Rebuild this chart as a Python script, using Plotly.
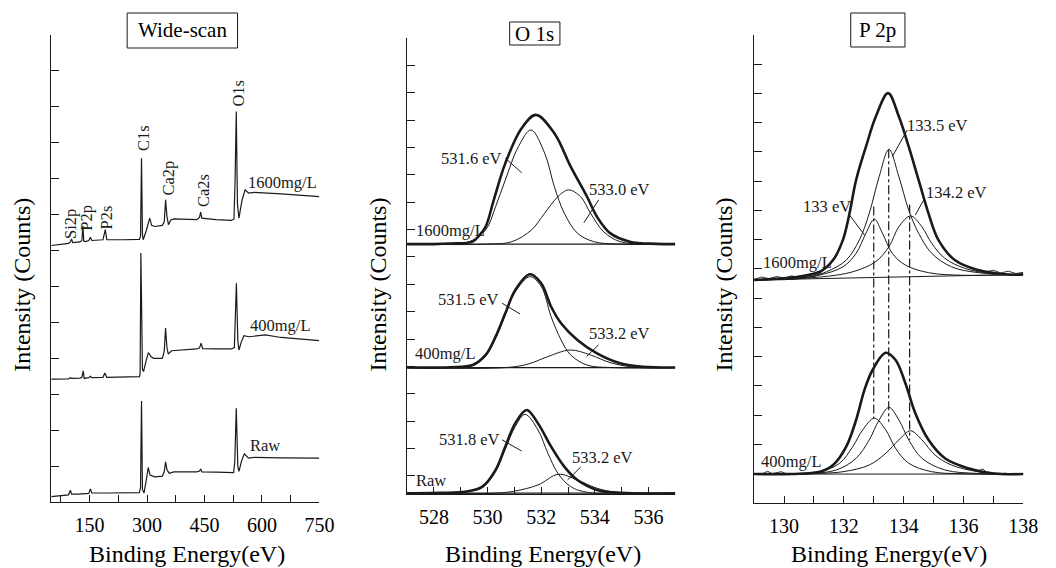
import plotly.graph_objects as go

W, H = 1056, 568
FONT = "'Liberation Serif', 'Times New Roman', Times, 'DejaVu Serif', serif"
INK = "#1a1a1a"

# ---------------- Wide-scan (panel 1) ----------------
ws_1600_x = [50, 95, 100, 103, 106, 125, 130, 132.6, 135, 140, 148, 152, 156, 185, 191, 195, 240, 280, 283, 285.6,
             288, 290, 298, 303, 307, 312, 320, 340, 345, 348.5, 352, 356, 362, 370, 430, 437, 440, 443, 480, 520,
             527, 530, 533, 536, 540, 548, 556, 565, 580, 650, 700, 750]
ws_1600_y = [7.14, 7.20, 7.24, 7.32, 7.22, 7.24, 7.28, 7.69, 7.26, 7.25, 7.28, 7.37, 7.28, 7.30, 7.58, 7.30, 7.30, 7.31,
             7.40, 9.57, 7.45, 7.30, 7.55, 7.75, 7.90, 7.70, 7.67, 7.70, 7.80, 8.41, 7.95, 7.72, 7.85, 7.88, 7.86, 7.92,
             8.07, 7.90, 7.86, 7.84, 7.88, 9.00, 10.87, 8.30, 7.90, 8.40, 8.69, 8.60, 8.62, 8.58, 8.54, 8.50]

ws_400_x = [50, 95, 100, 103, 125, 130, 133.4, 136, 140, 148, 152, 156, 185, 190, 195, 240, 280.5, 282, 284, 288,
            290.8, 298, 303.7, 310, 317, 340, 345, 348.4, 352, 355.3, 364, 430, 437, 441.3, 445, 480, 520, 528,
            533.3, 537, 540, 546, 553, 566, 609, 650, 700, 750]
ws_400_y = [3.42, 3.43, 3.46, 3.44, 3.45, 3.47, 3.65, 3.44, 3.45, 3.46, 3.50, 3.46, 3.47, 3.59, 3.47, 3.47, 3.49, 3.60,
            6.93, 3.70, 3.63, 3.95, 4.16, 4.05, 4.00, 4.00, 4.20, 4.84, 4.30, 4.12, 4.21, 4.26, 4.29, 4.42, 4.27, 4.26,
            4.26, 4.30, 6.09, 4.50, 4.23, 4.45, 4.63, 4.60, 4.65, 4.58, 4.53, 4.49]

ws_raw_x = [50, 95, 100, 103, 120, 148, 152, 156, 200, 280, 283, 285.6, 288, 292, 298, 303, 308, 320, 340, 345,
            348.5, 352, 358, 370, 430, 437, 440, 443, 480, 526, 529, 533, 537, 540, 547, 554, 565, 580, 650, 750]
ws_raw_y = [0.15, 0.20, 0.33, 0.22, 0.22, 0.24, 0.36, 0.25, 0.25, 0.26, 0.40, 2.81, 0.35, 0.25, 0.60, 0.96, 0.75,
            0.70, 0.72, 0.85, 1.12, 0.90, 0.80, 0.84, 0.84, 0.86, 0.92, 0.84, 0.83, 0.82, 1.10, 2.61, 1.00, 0.85,
            1.15, 1.34, 1.22, 1.24, 1.23, 1.22]

ws_peak_labels = ["Si2p", "P2p", "P2s", "C1s", "Ca2p", "Ca2s", "O1s"]
ws_sample_labels = ["1600mg/L", "400mg/L", "Raw"]

# ---------------- O 1s (panel 2) ----------------
o_edges = [527.0, 537.0]
o_1600_base = 8.47
o_1600_env_x = [527.0, 528.0, 528.6, 529.44, 529.7, 529.93, 530.23, 530.66, 531.27, 531.80, 532.49, 533.10, 533.71,
                534.08, 534.57, 535.30, 536.3, 537.0]
o_1600_env_y = [8.47, 8.47, 8.49, 8.56, 8.80, 9.11, 10.08, 11.42, 12.70, 13.19, 12.52, 11.30, 10.20, 9.47, 8.87, 8.56,
                8.48, 8.47]
o_1600_c1_x = [527.0, 528.5, 529.32, 529.93, 530.30, 530.66, 531.15, 531.62, 532.13, 532.49, 532.86, 533.35, 533.96,
               534.9, 537.0]
o_1600_c1_y = [8.47, 8.47, 8.56, 8.99, 9.84, 10.81, 12.03, 12.64, 11.79, 10.57, 9.60, 8.87, 8.56, 8.47, 8.47]
o_1600_c2_x = [527.0, 530.0, 530.91, 531.64, 532.13, 532.62, 533.02, 533.47, 533.84, 534.33, 534.94, 535.9, 537.0]
o_1600_c2_y = [8.47, 8.47, 8.56, 8.99, 9.60, 10.20, 10.45, 10.20, 9.60, 8.92, 8.56, 8.47, 8.47]

o_400_base = 3.96
o_400_env_x = [527.0, 528.6, 529.44, 529.93, 530.30, 530.66, 531.03, 531.58, 532.0, 532.37, 532.74, 533.35, 534.08,
               534.94, 535.79, 537.0]
o_400_env_y = [3.96, 3.97, 4.05, 4.42, 5.09, 5.94, 6.79, 7.37, 7.04, 6.18, 5.58, 4.97, 4.48, 4.12, 3.99, 3.96]
o_400_c1_x = [527.0, 528.6, 529.44, 529.93, 530.30, 530.66, 531.03, 531.58, 532.0, 532.37, 532.74, 533.1, 533.71,
              534.6, 537.0]
o_400_c1_y = [3.96, 3.96, 4.03, 4.38, 5.03, 5.88, 6.72, 7.28, 6.92, 5.82, 4.97, 4.42, 4.05, 3.96, 3.96]
o_400_c2_x = [527.0, 530.7, 531.52, 532.25, 533.08, 533.84, 534.57, 535.5, 537.0]
o_400_c2_y = [3.96, 3.96, 4.09, 4.36, 4.60, 4.42, 4.14, 3.97, 3.96]

o_raw_base = -0.63
o_raw_env_x = [527.0, 528.3, 529.2, 529.81, 530.30, 530.66, 531.03, 531.46, 531.88, 532.37, 532.86, 533.35, 534.08,
               535.0, 537.0]
o_raw_env_y = [-0.63, -0.62, -0.57, -0.39, 0.22, 1.07, 1.92, 2.41, 1.92, 1.07, 0.34, -0.15, -0.51, -0.62, -0.63]
o_raw_c1_x = [527.0, 528.3, 529.2, 529.81, 530.30, 530.66, 531.03, 531.40, 531.88, 532.25, 532.62, 533.1, 533.8,
              537.0]
o_raw_c1_y = [-0.63, -0.63, -0.58, -0.42, 0.16, 0.98, 1.80, 2.25, 1.68, 0.83, 0.10, -0.39, -0.61, -0.63]
o_raw_c2_x = [527.0, 530.3, 531.03, 531.88, 532.64, 533.35, 534.08, 534.9, 537.0]
o_raw_c2_y = [-0.63, -0.63, -0.55, -0.33, 0.06, -0.15, -0.45, -0.61, -0.63]

o_peak_labels = [("531.6 eV", 530.6, 11.6, "right", (530.66, 11.61, 531.27, 11.08)),
                 ("533.0 eV", 533.69, 10.48, "left", (534.14, 10.08, 533.59, 9.25)),
                 ("531.5 eV", 530.5, 6.43, "right", (530.54, 6.31, 531.21, 5.92)),
                 ("533.2 eV", 533.69, 5.22, "left", (534.14, 4.79, 533.69, 4.36)),
                 ("531.8 eV", 530.55, 1.32, "right", (530.54, 1.32, 531.27, 0.91)),
                 ("533.2 eV", 533.07, 0.66, "left", (533.47, 0.32, 532.98, -0.15))]
o_sample_labels = [("1600mg/L", 527.25, 8.95), ("400mg/L", 527.22, 4.49), ("Raw", 527.26, -0.15)]

# ---------------- P 2p (panel 3) ----------------
p_edges = [129.0, 138.0]
p_1600_base = [7.62, 7.81]
p_1600_env_x = [129.0, 130.3, 131.2, 131.64, 131.97, 132.19, 132.41, 132.74, 133.07, 133.48, 133.84, 134.17, 134.5,
                134.83, 135.16, 135.71, 136.48, 137.6, 138.0]
p_1600_env_y = [7.62, 7.71, 7.90, 8.30, 8.99, 9.90, 11.04, 12.18, 13.21, 14.01, 13.21, 12.18, 11.04, 9.90, 8.99, 8.30,
                7.96, 7.80, 7.81]
p_1600_b_x = [129.0, 130.65, 131.42, 132.08, 132.52, 132.85, 133.18, 133.51, 133.84, 134.17, 134.5, 134.94, 135.6,
              136.5, 138.0]
p_1600_b_y = [7.62, 7.68, 7.90, 8.30, 8.99, 9.90, 11.15, 12.09, 11.15, 10.01, 9.22, 8.53, 8.07, 7.87, 7.81]
p_1600_a_x = [129.0, 130.5, 131.2, 131.97, 132.41, 132.74, 133.02, 133.29, 133.62, 134.06, 134.83, 136.0, 138.0]
p_1600_a_y = [7.62, 7.69, 7.79, 8.07, 8.53, 9.22, 9.70, 9.22, 8.53, 8.13, 7.87, 7.78, 7.81]
p_1600_c_x = [129.0, 131.2, 132.3, 133.07, 133.51, 133.84, 134.23, 134.61, 134.94, 135.38, 136.04, 136.9, 138.0]
p_1600_c_y = [7.62, 7.72, 7.90, 8.25, 8.76, 9.44, 9.81, 9.44, 8.87, 8.36, 8.02, 7.84, 7.81]
p_1600_raw_x = [129.0, 129.25, 129.5, 129.75, 130.0, 130.25, 130.5, 130.75, 131.0, 131.25, None,
                136.5, 136.75, 137.0, 137.25, 137.5, 137.75, 138.0]
p_1600_raw_y = [7.64, 7.72, 7.66, 7.74, 7.68, 7.76, 7.70, 7.78, 7.74, 7.86, None,
                7.98, 7.90, 7.95, 7.86, 7.92, 7.84, 7.88]

p_400_base = [0.98, 0.98]
p_400_env_x = [129.0, 130.5, 131.2, 131.64, 132.08, 132.41, 132.69, 132.96, 133.40, 133.73, 134.06, 134.39, 134.83,
               135.38, 136.15, 137.0, 138.0]
p_400_env_y = [0.98, 0.99, 1.06, 1.29, 1.92, 2.83, 3.86, 4.54, 5.13, 4.88, 4.08, 3.06, 2.15, 1.52, 1.18, 1.00, 0.98]
p_400_a_x = [129.0, 130.5, 131.2, 131.86, 132.3, 132.63, 133.02, 133.4, 133.73, 134.17, 134.94, 136.0, 138.0]
p_400_a_y = [0.98, 0.99, 1.06, 1.35, 1.92, 2.49, 2.89, 2.49, 1.86, 1.35, 1.06, 0.99, 0.98]
p_400_b_x = [129.0, 130.8, 131.75, 132.41, 132.85, 133.18, 133.51, 133.84, 134.17, 134.61, 135.38, 136.5, 138.0]
p_400_b_y = [0.98, 1.00, 1.12, 1.52, 2.15, 2.83, 3.26, 2.83, 2.15, 1.52, 1.12, 1.00, 0.98]
p_400_c_x = [129.0, 131.0, 131.97, 132.85, 133.4, 133.84, 134.23, 134.61, 135.05, 135.6, 136.5, 137.5, 138.0]
p_400_c_y = [0.98, 1.00, 1.06, 1.29, 1.69, 2.15, 2.46, 2.15, 1.63, 1.29, 1.06, 0.99, 0.98]
p_400_raw_x = [129.0, 129.3, 129.45, 129.6, 129.9, 130.1, 130.4, 130.7, 131.0, 131.3, None,
               135.9, 136.1, 136.3, 136.5, 136.65, 136.8, 137.1, 137.4, 137.7, 138.0]
p_400_raw_y = [0.98, 1.00, 1.08, 0.99, 1.06, 0.98, 1.00, 0.98, 1.02, 1.08, None,
               1.28, 1.20, 1.15, 1.10, 1.15, 1.02, 0.98, 1.01, 0.97, 1.00]

p_guides = [(133.0, 10.13, 2.89), (133.5, 12.09, 2.77), (134.2, 10.20, 2.15)]
p_peak_labels = [("133.5 eV", 134.06, 12.89, "left", (134.12, 12.75, 133.62, 11.84)),
                 ("134.2 eV", 134.67, 10.61, "left", (134.70, 10.41, 134.39, 9.84)),
                 ("133 eV", 132.32, 10.13, "right", (132.19, 9.84, 132.69, 9.16))]
p_sample_labels = [("1600mg/L", 129.22, 8.22), ("400mg/L", 129.17, 1.41)]

panel_titles = ["Wide-scan", "O 1s", "P 2p"]
x_title = "Binding Energy(eV)"
y_title = "Intensity (Counts)"

# ---------------- figure ----------------
fig = go.Figure()


def line(xa, ya, x, y, width=1.0, shape="linear", dash="solid"):
    fig.add_trace(go.Scatter(x=x, y=y, xaxis=xa, yaxis=ya, mode="lines", hoverinfo="skip",
                             connectgaps=False,
                             line=dict(color=INK, width=width, shape=shape, dash=dash)))


for xs, ys in [(ws_1600_x, ws_1600_y), (ws_400_x, ws_400_y), (ws_raw_x, ws_raw_y)]:
    line("x", "y", xs, ys, width=1.2)

for base, comps, env in [
    (o_1600_base, [(o_1600_c1_x, o_1600_c1_y), (o_1600_c2_x, o_1600_c2_y)], (o_1600_env_x, o_1600_env_y)),
    (o_400_base, [(o_400_c1_x, o_400_c1_y), (o_400_c2_x, o_400_c2_y)], (o_400_env_x, o_400_env_y)),
    (o_raw_base, [(o_raw_c1_x, o_raw_c1_y), (o_raw_c2_x, o_raw_c2_y)], (o_raw_env_x, o_raw_env_y)),
]:
    line("x2", "y2", o_edges, [base, base], width=1.2)
    for cx, cy in comps:
        line("x2", "y2", cx, cy, width=1.0, shape="spline")
    line("x2", "y2", env[0], env[1], width=2.6, shape="spline")

for base, comps, env, raw in [
    (p_1600_base, [(p_1600_a_x, p_1600_a_y), (p_1600_b_x, p_1600_b_y), (p_1600_c_x, p_1600_c_y)],
     (p_1600_env_x, p_1600_env_y), (p_1600_raw_x, p_1600_raw_y)),
    (p_400_base, [(p_400_a_x, p_400_a_y), (p_400_b_x, p_400_b_y), (p_400_c_x, p_400_c_y)],
     (p_400_env_x, p_400_env_y), (p_400_raw_x, p_400_raw_y)),
]:
    line("x3", "y3", p_edges, base, width=1.0)
    line("x3", "y3", raw[0], raw[1], width=0.9)
    for cx, cy in comps:
        line("x3", "y3", cx, cy, width=1.0, shape="spline")
    line("x3", "y3", env[0], env[1], width=2.6, shape="spline")

for gx, gy0, gy1 in p_guides:
    line("x3", "y3", [gx, gx], [gy0, gy1], width=1.2, dash="dashdot")


def fx(px):
    return px / W


def fy(py):
    return 1 - py / H


axis_common = dict(showline=True, linecolor=INK, linewidth=1, showgrid=False, zeroline=False,
                   ticks="inside", tickcolor=INK, tickwidth=1)
xfont = dict(family=FONT, size=20, color="black")

fig.update_layout(
    width=W, height=H, margin=dict(l=0, r=0, t=0, b=0),
    paper_bgcolor="white", plot_bgcolor="white", showlegend=False,
    font=dict(family=FONT, color="black"),
    xaxis=dict(domain=[fx(52), fx(324)], range=[50, 750], anchor="y", tick0=0, dtick=150, ticklen=7,
               minor=dict(dtick=75, ticks="inside", ticklen=7, tickcolor=INK), tickfont=xfont,
               ticklabelstandoff=5, **axis_common),
    yaxis=dict(domain=[fy(502), fy(35)], range=[0, 13], anchor="x", tick0=0, dtick=1, ticklen=8,
               showticklabels=False, **axis_common),
    xaxis2=dict(domain=[fx(413), fx(685)], range=[527, 537], anchor="y2", tick0=528, dtick=2, ticklen=7,
                minor=dict(dtick=1, ticks="inside", ticklen=7, tickcolor=INK), tickfont=xfont,
                ticklabelstandoff=5, **axis_common),
    yaxis2=dict(domain=[fy(494), fy(38)], range=[-0.66, 16], anchor="x2", tick0=0, dtick=1, ticklen=8,
                showticklabels=False, **axis_common),
    xaxis3=dict(domain=[fx(765), fx(1038)], range=[129, 138], anchor="y3", tick0=130, dtick=2, ticklen=7,
                minor=dict(dtick=1, ticks="inside", ticklen=7, tickcolor=INK), tickfont=xfont,
                ticklabelstandoff=5, **axis_common),
    yaxis3=dict(domain=[fy(502.7), fy(35)], range=[0, 16], anchor="x3", tick0=0, dtick=1, ticklen=8,
                showticklabels=False, **axis_common),
)

ann = []
lab_font = dict(family=FONT, size=16.5, color=INK)

# panel title boxes
boxes = [(129, 241, 13, 48), (517, 568, 22, 45), (863, 918, 13, 47)]
for title, (x0, x1, y0, y1) in zip(panel_titles, boxes):
    fig.add_shape(type="rect", xref="paper", yref="paper", x0=fx(x0), x1=fx(x1), y0=fy(y1), y1=fy(y0),
                  line=dict(color=INK, width=1))
    ann.append(dict(text=title, xref="paper", yref="paper", x=fx((x0 + x1) / 2), y=fy((y0 + y1) / 2),
                    showarrow=False, font=dict(family=FONT, size=21, color="black"),
                    xanchor="center", yanchor="middle"))

# axis titles
for cx in [190, 551, 902]:
    ann.append(dict(text=x_title, xref="paper", yref="paper", x=fx(cx), y=fy(554), showarrow=False,
                    font=dict(family=FONT, size=24, color="black"), xanchor="center", yanchor="middle"))
for cx in [22, 383, 734]:
    ann.append(dict(text=y_title, xref="paper", yref="paper", x=fx(cx), y=fy(285), showarrow=False,
                    textangle=-90, font=dict(family=FONT, size=24, color="black"),
                    xanchor="center", yanchor="middle"))

# wide-scan rotated peak labels (pixel centres)
ws_label_pos = [(72, 224), (87, 218), (108, 217), (145, 138), (170, 178), (207, 191), (241, 93)]
for t, (px, py) in zip(ws_peak_labels, ws_label_pos):
    ann.append(dict(text=t, xref="paper", yref="paper", x=fx(px), y=fy(py), textangle=-90, showarrow=False,
                    font=lab_font, xanchor="center", yanchor="middle"))
ws_sample_pos = [(250, 183), (252, 325), (252, 445)]
for t, (px, py) in zip(ws_sample_labels, ws_sample_pos):
    ann.append(dict(text=t, xref="paper", yref="paper", x=fx(px), y=fy(py), showarrow=False,
                    font=lab_font, xanchor="left", yanchor="middle"))

for xa, ya, peaks, samples in [("x2", "y2", o_peak_labels, o_sample_labels),
                               ("x3", "y3", p_peak_labels, p_sample_labels)]:
    for t, x, y, anchor, (lx0, ly0, lx1, ly1) in peaks:
        ann.append(dict(text=t, xref=xa, yref=ya, x=x, y=y, showarrow=False, font=lab_font,
                        xanchor=anchor, yanchor="middle"))
        fig.add_shape(type="line", xref=xa, yref=ya, x0=lx0, y0=ly0, x1=lx1, y1=ly1,
                      line=dict(color=INK, width=1))
    for t, x, y in samples:
        ann.append(dict(text=t, xref=xa, yref=ya, x=x, y=y, showarrow=False, font=lab_font,
                        xanchor="left", yanchor="middle"))

fig.update_layout(annotations=ann)
fig.write_html("out.html")
